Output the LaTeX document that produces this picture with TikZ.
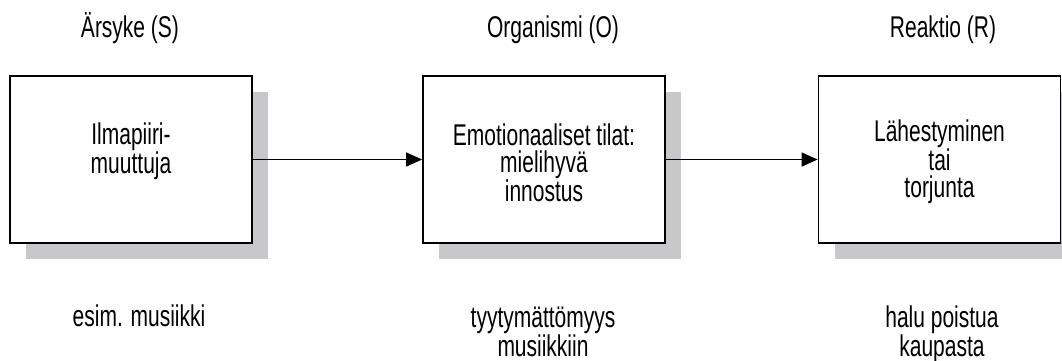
\documentclass[tikz,border=0pt]{standalone}
\usepackage{fontspec}
\setmainfont{Liberation Sans}[FakeStretch=0.70]
\usetikzlibrary{arrows.meta}
\definecolor{shadowgray}{RGB}{200,200,202}
\newcommand\firstline{\rule{0pt}{24pt}}
\begin{document}
\begin{tikzpicture}[x=1pt,y=-1pt,
  stagebox/.style={draw=black,line width=1.8pt,fill=white,minimum width=242pt,minimum height=167pt,inner sep=0pt},
  shadowbox/.style={fill=shadowgray,minimum width=242pt,minimum height=167pt,inner sep=0pt},
  lbl/.style={font=\fontsize{30}{27}\selectfont,align=center,inner sep=0pt},
  note/.style={font=\fontsize{30}{29}\selectfont,align=center,inner sep=0pt},
  flow/.style={line width=1.6pt,-{Triangle[length=16pt,width=14pt]}}]
\useasboundingbox (0,0) rectangle (1062,360);
\clip (0,0) rectangle (1062,360);

% headers
\node[lbl,anchor=base] (hs) at (130,37) {Ärsyke (S)};
\node[lbl,anchor=base] (ho) at (553,37) {Organismi (O)};
\node[lbl,anchor=base] (hr) at (943,37) {Reaktio (R)};

% shadows
\node[shadowbox] (shs) at (147,175.5) {};
\node[shadowbox] (sho) at (560,175.5) {};
\node[shadowbox] (shr) at (955.5,175.5) {};

% boxes
\node[stagebox] (s) at (131,159.5) {};
\node[stagebox] (o) at (544,159.5) {};
\node[stagebox] (r) at (939.5,159.5) {};

% box texts
\node[lbl,anchor=north] (st) at (131,120) {\firstline Ilmapiiri-\\muuttuja};
\node[lbl,anchor=north] (ot) at (544,121.5) {\firstline Emotionaaliset tilat:\\mielihyvä\\innostus};
\node[lbl,anchor=north] (rt) at (939.5,117) {\firstline Lähestyminen\\tai\\torjunta};

% connectors
\draw[flow] (s.east) -- (o.west);
\draw[flow] (o.east) -- (r.west);

% examples
\node[note,anchor=north] (es) at (139,302) {\firstline esim. musiikki};
\node[note,anchor=north] (eo) at (543,303) {\firstline tyytymättömyys\\musiikkiin};
\node[note,anchor=north] (er) at (942,303) {\firstline halu poistua\\kaupasta};
\end{tikzpicture}
\end{document}
